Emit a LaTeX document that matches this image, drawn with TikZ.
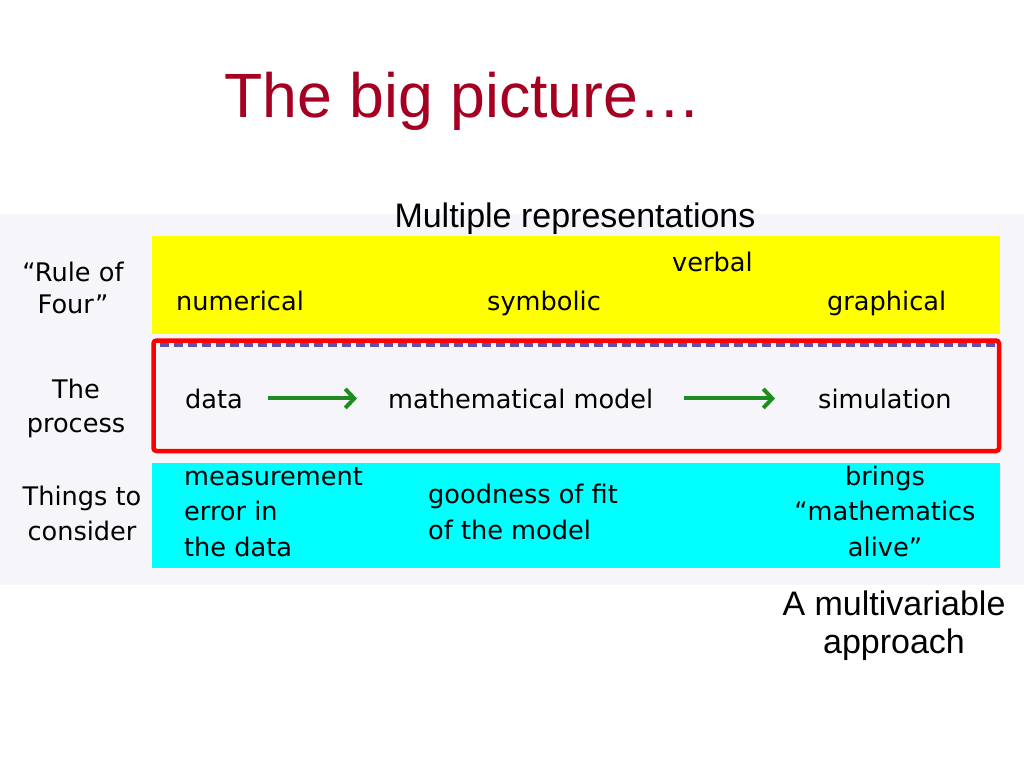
\documentclass[tikz,border=0pt]{standalone}
\usepackage{fontspec}
\setmainfont{Liberation Sans}
\newfontfamily\comic{DejaVu Sans}
\usetikzlibrary{arrows.meta}
\definecolor{titlered}{HTML}{A50021}
\definecolor{panelgray}{HTML}{F6F6FA}
\definecolor{rowyellow}{HTML}{FFFF00}
\definecolor{rowcyan}{HTML}{00FFFF}
\definecolor{boxred}{HTML}{FF0000}
\definecolor{dashpurple}{HTML}{5F4FB0}
\definecolor{arrowgreen}{HTML}{1E8C1E}
\tikzset{
  cell/.style={inner sep=0pt, font=\comic\fontsize{25.6}{35}\selectfont},
  slidetext/.style={inner sep=0pt, font=\fontsize{34}{40}\selectfont},
  flowarrow/.style={draw=arrowgreen, line width=4pt, -{Straight Barb[length=9pt,width=19pt]}},
}
\begin{document}
\begin{tikzpicture}[x=1pt,y=-1pt]
\useasboundingbox (0,0) rectangle (1024,768);
\fill[white] (0,0) rectangle (1024,768);
% panel and rows
\fill[panelgray] (0,214) rectangle (1024,585);
\fill[rowyellow] (152,236) rectangle (1000,334);
\fill[rowcyan] (152,463) rectangle (1000,568);
\draw[boxred, line width=4.5pt, rounded corners=3pt] (153.5,340.5) rectangle (999,451);
\draw[dashpurple, line width=3.5pt, dash pattern=on 9pt off 5pt] (160,345) -- (996,345);
% title and captions
\node[inner sep=0pt, anchor=base west, text=titlered, font=\fontsize{62.6}{70}\selectfont] (title) at (224,117) {The big picture…};
\node[slidetext, anchor=base] (multi) at (575,227) {Multiple representations};
\node[slidetext, anchor=base] (appr1) at (894,615) {A multivariable};
\node[slidetext, anchor=base] (appr2) at (894,653) {approach};
% row labels
\node[cell, anchor=base] (rl1) at (73,281) {“Rule of};
\node[cell, anchor=base] (rl2) at (73,313) {Four”};
\node[cell, anchor=base] (pl1) at (76,398) {The};
\node[cell, anchor=base] (pl2) at (76,432) {process};
\node[cell, anchor=base] (tl1) at (82,505) {Things to};
\node[cell, anchor=base] (tl2) at (82,540) {consider};
% rule of four
\node[cell, anchor=base west] (num) at (176,310) {numerical};
\node[cell, anchor=base west] (sym) at (487,310) {symbolic};
\node[cell, anchor=base west] (verb) at (672,271) {verbal};
\node[cell, anchor=base west] (graph) at (827,310) {graphical};
% process
\node[cell, anchor=base west] (data) at (185,408) {data};
\node[cell, anchor=base west] (model) at (388,408) {mathematical model};
\node[cell, anchor=base west] (sim) at (818,408) {simulation};
\draw[flowarrow, shorten <=25pt, shorten >=31pt] (data.east) -- (model.west);
\draw[flowarrow, shorten <=30pt, shorten >=43pt] (model.east) -- (sim.west);
% things to consider
\node[cell, anchor=base west] (m1) at (184,485) {measurement};
\node[cell, anchor=base west] (m2) at (184,520) {error in};
\node[cell, anchor=base west] (m3) at (184,556) {the data};
\node[cell, anchor=base west] (g1) at (428,503) {goodness of fit};
\node[cell, anchor=base west] (g2) at (428,539) {of the model};
\node[cell, anchor=base] (b1) at (885,485) {brings};
\node[cell, anchor=base] (b2) at (885,520) {“mathematics};
\node[cell, anchor=base] (b3) at (885,556) {alive”};
\end{tikzpicture}
\end{document}
